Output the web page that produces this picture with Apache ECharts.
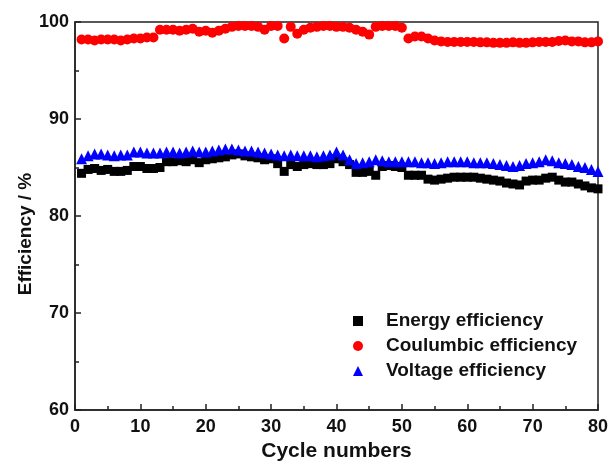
<!DOCTYPE html>
<html>
<head>
<meta charset="utf-8">
<script src="https://cdn.jsdelivr.net/npm/echarts@6/dist/echarts.min.js"></script>
<style>
html,body{margin:0;padding:0;background:#fff;}
#chart{width:611px;height:462px;}
</style>
</head>
<body>
<div id="chart"></div>
<script>
var cycles = [1,2,3,4,5,6,7,8,9,10,11,12,13,14,15,16,17,18,19,20,
  21,22,23,24,25,26,27,28,29,30,31,32,33,34,35,36,37,38,39,40,
  41,42,43,44,45,46,47,48,49,50,51,52,53,54,55,56,57,58,59,60,
  61,62,63,64,65,66,67,68,69,70,71,72,73,74,75,76,77,78,79,80];

var energyEff = [84.4,84.8,84.9,84.7,84.8,84.6,84.6,84.7,85.1,85.1,
  84.9,84.9,85.0,85.6,85.6,85.7,85.6,85.8,85.5,85.8,
  85.9,86.0,86.1,86.3,86.4,86.2,86.1,86.0,85.8,85.9,
  85.4,84.6,85.3,85.1,85.3,85.4,85.3,85.3,85.4,85.9,
  85.6,85.3,84.5,84.5,84.6,84.2,85.1,85.2,85.1,85.0,
  84.2,84.2,84.2,83.8,83.7,83.8,83.9,84.0,84.0,84.0,
  84.0,83.9,83.8,83.7,83.6,83.4,83.3,83.2,83.6,83.7,
  83.7,83.9,84.0,83.7,83.5,83.5,83.3,83.1,82.9,82.8];

var coulombicEff = [98.2,98.2,98.1,98.2,98.2,98.2,98.1,98.2,98.3,98.3,
  98.4,98.4,99.2,99.2,99.2,99.1,99.2,99.3,99.0,99.1,
  98.9,99.1,99.3,99.5,99.6,99.6,99.6,99.5,99.2,99.6,
  99.6,98.3,99.5,98.8,99.2,99.4,99.5,99.6,99.6,99.5,
  99.5,99.4,99.2,99.0,98.7,99.5,99.6,99.6,99.6,99.4,
  98.3,98.5,98.5,98.3,98.1,98.0,97.95,97.95,97.95,97.95,
  97.95,97.9,97.9,97.85,97.85,97.85,97.9,97.85,97.85,97.9,
  97.95,97.95,97.95,98.05,98.1,98.0,98.0,97.9,97.9,98.0];

var voltageEff = [85.9,86.2,86.4,86.4,86.3,86.2,86.3,86.3,86.6,86.6,
  86.5,86.5,86.5,86.6,86.6,86.5,86.6,86.7,86.6,86.6,
  86.7,86.8,86.9,86.9,86.8,86.7,86.7,86.6,86.5,86.4,
  86.3,86.2,86.3,86.2,86.2,86.2,86.1,86.2,86.3,86.6,
  86.3,85.8,85.4,85.5,85.6,85.8,85.7,85.6,85.6,85.6,
  85.6,85.6,85.5,85.5,85.4,85.5,85.6,85.6,85.6,85.6,
  85.5,85.5,85.5,85.4,85.3,85.2,85.1,85.2,85.4,85.5,
  85.6,85.8,85.7,85.5,85.4,85.3,85.1,85.0,84.8,84.6];

var seriesNames = ['Energy efficiency','Coulumbic efficiency','Voltage efficiency'];

function pairs(ys){ return cycles.map(function(c,i){ return [c, ys[i]]; }); }

var FONT = 'Liberation Sans, Arial, sans-serif';
var chart = echarts.init(document.getElementById('chart'), null, {renderer:'canvas'});
chart.setOption({
  animation:false,
  backgroundColor:'#fff',
  grid:{left:75, right:13, top:22, bottom:52, show:true, borderColor:'#222', borderWidth:1.5,
        backgroundColor:'transparent', containLabel:false, outerBoundsMode:'none'},
  legend:{
    orient:'vertical', left:348, top:306,
    itemWidth:10, itemHeight:10, itemGap:5,
    data:seriesNames,
    textStyle:{fontFamily:FONT, fontWeight:'bold', fontSize:19, color:'#111', padding:[0,0,0,18], lineHeight:20}
  },
  xAxis:{
    type:'value', min:0, max:80, interval:10,
    name:'Cycle numbers', nameLocation:'middle', nameGap:31, nameMoveOverlap:false,
    nameTextStyle:{fontFamily:FONT, fontWeight:'bold', fontSize:21, color:'#111'},
    axisLine:{show:true, lineStyle:{color:'#222', width:1.5}},
    axisTick:{show:true, inside:true, length:6, lineStyle:{color:'#222', width:1.5}},
    minorTick:{show:true, splitNumber:2, length:4, lineStyle:{color:'#222', width:1.5}},
    axisLabel:{fontFamily:FONT, fontWeight:'bold', fontSize:18, color:'#111', margin:8},
    splitLine:{show:false}
  },
  yAxis:{
    type:'value', min:60, max:100, interval:10,
    name:'Efficiency / %', nameLocation:'middle', nameGap:40, nameRotate:90, nameMoveOverlap:false,
    nameTextStyle:{fontFamily:FONT, fontWeight:'bold', fontSize:19, color:'#111', padding:[0,36,0,0]},
    axisLine:{show:true, lineStyle:{color:'#222', width:1.5}},
    axisTick:{show:true, inside:true, length:6, lineStyle:{color:'#222', width:1.5}},
    minorTick:{show:true, splitNumber:2, length:4, lineStyle:{color:'#222', width:1.5}},
    axisLabel:{fontFamily:FONT, fontWeight:'bold', fontSize:18, color:'#111', margin:6},
    splitLine:{show:false}
  },
  series:[
    {name:seriesNames[0], type:'scatter', symbol:'rect', symbolSize:9, data:pairs(energyEff), itemStyle:{color:'#000', opacity:1}},
    {name:seriesNames[1], type:'scatter', symbol:'circle', symbolSize:10, data:pairs(coulombicEff), itemStyle:{color:'#ff0000', opacity:1}},
    {name:seriesNames[2], type:'scatter', symbol:'triangle', symbolSize:11, data:pairs(voltageEff), itemStyle:{color:'#0000ff', opacity:1}}
  ]
});
</script>
</body>
</html>
